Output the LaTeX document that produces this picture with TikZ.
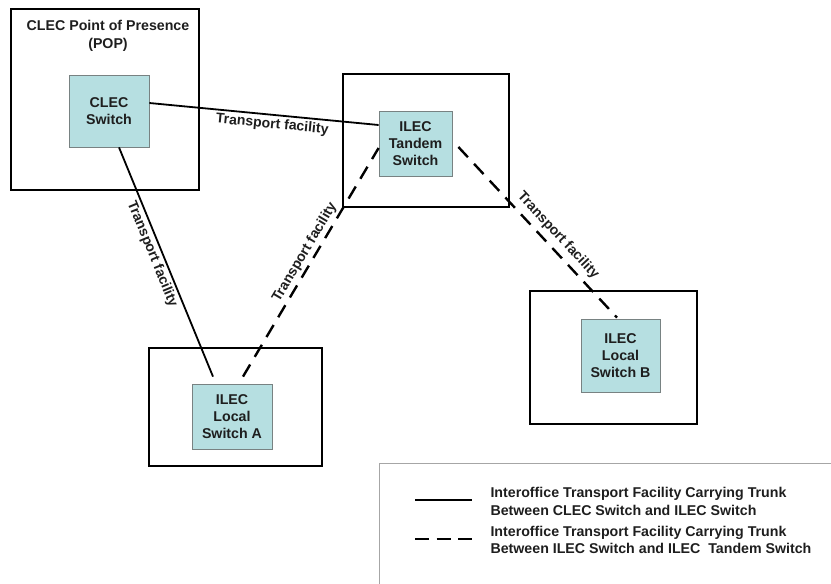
\documentclass[tikz,border=0pt]{standalone}
\usepackage{fontspec}
\setmainfont{Liberation Sans}
\usetikzlibrary{calc}
\definecolor{swfill}{RGB}{182,223,225}
\definecolor{swline}{RGB}{120,130,130}
\definecolor{txt}{RGB}{30,30,30}
\tikzset{
  outerbox/.style={draw=black, line width=2.4pt, fill=none, inner sep=0pt},
  switchbox/.style={draw=swline, line width=0.8pt, fill=swfill, align=center, inner sep=0pt, text=txt,
    font=\bfseries\fontsize{14.2}{17}\selectfont},
  lbl/.style={font=\bfseries\fontsize{14.2}{17.5}\selectfont, text=txt, align=center},
  solidlink/.style={draw=black, line width=1.8pt},
  dashlink/.style={draw=black, line width=2.4pt, dash pattern=on 14pt off 9pt},
  tf/.style={font=\bfseries\fontsize{14}{16}\selectfont, text=txt, sloped, inner sep=2.5pt},
}
\begin{document}
\begin{tikzpicture}[x=1pt,y=-1pt]
\useasboundingbox (0,0) rectangle (831,584);
% outer boxes
\node[outerbox, minimum width=188pt, minimum height=181pt] (pop) at (105,99.5) {};
\node[outerbox, minimum width=166pt, minimum height=133pt] (tbox) at (426,140.5) {};
\node[outerbox, minimum width=173pt, minimum height=118pt] (labox) at (235.5,407) {};
\node[outerbox, minimum width=167pt, minimum height=133pt] (lbbox) at (613.5,357.5) {};
\node[lbl] (poplbl) at (108,36) {CLEC Point of Presence\\(POP)};
% switches
\node[switchbox, minimum width=80pt, minimum height=72pt] (clec) at (109,111) {CLEC\\Switch};
\node[switchbox, minimum width=73pt, minimum height=65pt] (tandem) at (415.5,143.5) {ILEC\\Tandem\\Switch};
\node[switchbox, minimum width=80pt, minimum height=65pt] (la) at (232,416.5) {ILEC\\Local\\Switch A};
\node[switchbox, minimum width=79pt, minimum height=73pt] (lb) at (620.5,355.5) {ILEC\\Local\\Switch B};
% links
\draw[solidlink] ($(clec.east)+(0,-8)$) -- node[tf, below, pos=0.54] {Transport facility} ($(tandem.west)+(0,-18.5)$);
\draw[solidlink] ($(clec.south)+(10,0)$) -- node[tf, below, pos=0.45] {Transport facility} ($(la.north)+(-19,-7)$);
\draw[dashlink] ($(la.north)+(11,-7)$) -- node[tf, above, pos=0.52] {Transport facility} ($(tandem.west)+(0,4.5)$);
\draw[dashlink] ($(tandem.east)+(6,3.5)$) -- node[tf, above, pos=0.57, inner sep=5pt] {Transport facility} ($(lb.north)+(-3.5,-1)$);
% legend
\coordinate (lgtr) at (831,463);
\coordinate (lgtl) at (379,463);
\coordinate (lgbl) at (379,584);
\draw[draw=gray!70, line width=1pt] (lgtr) -- (lgtl) -- (lgbl);
\coordinate (s1) at (415,500);
\coordinate (s2) at (472,500);
\coordinate (d1) at (415,539);
\coordinate (d2) at (472,539);
\draw[solidlink] (s1) -- (s2);
\draw[dashlink, dash pattern=on 14pt off 7.5pt] (d1) -- (d2);
\node[lbl, anchor=west, align=left] (leg1) at (487,501.5) {Interoffice Transport Facility Carrying Trunk\\Between CLEC Switch and ILEC Switch};
\node[lbl, anchor=west, align=left] (leg2) at (487,540) {Interoffice Transport Facility Carrying Trunk\\Between ILEC Switch and ILEC\ \ Tandem Switch};
\end{tikzpicture}
\end{document}
